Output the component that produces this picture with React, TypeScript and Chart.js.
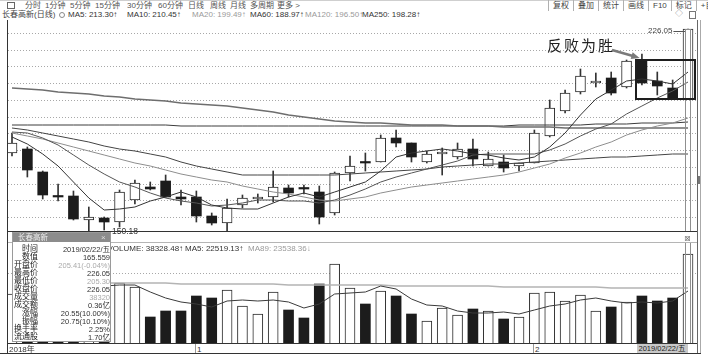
import React, { useEffect, useRef } from "react";
import { Chart, registerables } from "chart.js";

Chart.register(...registerables);

// ---------------- data ----------------
const DATES = [
  "2018-12-14","2018-12-17","2018-12-18","2018-12-19","2018-12-20","2018-12-21","2018-12-24","2018-12-25","2018-12-26","2018-12-27","2018-12-28","2018-12-31",
  "2019-01-02","2019-01-03","2019-01-04","2019-01-07","2019-01-08","2019-01-09","2019-01-10","2019-01-11","2019-01-14","2019-01-15","2019-01-16","2019-01-17","2019-01-18","2019-01-21","2019-01-22","2019-01-23","2019-01-24","2019-01-25","2019-01-28","2019-01-29","2019-01-30","2019-01-31",
  "2019-02-01","2019-02-11","2019-02-12","2019-02-13","2019-02-14","2019-02-15","2019-02-18","2019-02-19","2019-02-20","2019-02-21","2019-02-22",
];
const OPEN = [189.16,190.27,183.4,176.11,176.32,169.15,169.66,168.46,175.12,179.09,180.8,176.11,176.11,170.34,168.16,173.63,175.33,176.11,178.8,178.32,177.6,171.15,183.28,186.08,186.56,193.55,192.06,186.56,188.77,187.88,190.36,185.28,186.56,185.28,186.26,194.24,201.8,207.47,210.16,211.47,208.78,216.73,210.76,208.67,205.41];
const HIGH = [195.14,191.04,183.88,179.9,177.9,173.12,170.13,178.11,181.09,180.59,182.59,178.11,177.9,171.15,175.33,176.62,176.82,183.88,179.6,179.6,179.3,183.5,188.26,189.07,194.54,196.03,192.06,189.85,190.56,192.06,193.34,189.55,188.56,186.26,196.03,204.99,207.98,214.16,212.97,213.27,216.9,218.73,213.27,211.01,226.05];
const LOW = [188.27,181.9,175.42,174.91,169.15,150.18,166.16,167.15,173.93,178.11,175.93,173.63,168.64,167.65,165.35,172.64,174.14,174.61,176.11,176.82,167.95,170.64,180.89,183.88,186.56,190.86,186.56,186.08,182.59,187.28,185.28,185.28,183.57,183.88,186.08,194.03,201.2,206.78,208.78,206.48,208.6,209.47,206.48,205.5,205.3];
const CLOSE = [192.15,184.08,176.62,176.11,169.36,170.13,168.64,177.42,180.29,178.32,176.11,175.33,170.34,168.34,172.82,175.63,175.4,178.92,177.3,178.32,170.13,183.28,185.28,186.08,193.55,192.06,188.06,188.86,189.55,190.27,187.37,187.28,184.59,186.08,195.05,202.51,207.17,212.16,210.25,207.17,216.73,209.98,209.17,205.5,226.05];

const MA5 = [193.9,191.8,189.0,185.2,180.6,175.8,172.17,172.33,173.17,174.96,176.16,177.49,176.08,173.69,172.59,172.49,172.51,174.22,176.01,177.11,176.01,177.59,178.86,180.62,183.66,188.05,189.01,189.72,190.42,189.76,188.82,188.67,187.81,187.12,188.07,191.1,195.08,200.59,205.43,207.85,210.7,211.26,210.66,209.71,213.3];
const MA10 = [195.5,195.0,193.6,191.5,188.6,185.6,183.0,180.6,179.0,177.31,175.71,174.83,174.21,173.43,173.77,174.32,175.0,175.15,174.85,174.85,174.25,175.05,176.54,178.32,180.39,182.03,183.3,184.29,185.52,186.71,188.44,188.84,188.77,188.77,188.92,189.96,191.87,194.2,196.27,197.96,200.9,203.17,205.63,207.57,210.45];
const MA20 = [195.1,194.3,193.3,192.2,191.1,189.9,188.7,187.5,186.3,185.2,184.0,183.0,182.0,181.2,180.4,179.3,178.3,177.5,176.8,176.08,174.98,174.94,175.37,175.87,177.08,178.18,179.15,179.72,180.18,180.78,181.34,181.94,182.65,183.54,184.65,186.0,187.59,189.25,190.9,192.34,194.67,196.0,197.2,198.17,199.49];
const MA60 = [196.6,195.9,195.0,194.1,193.2,192.3,191.3,190.5,189.9,189.0,187.9,186.6,185.4,184.4,183.4,182.6,182.5,182.5,182.5,182.6,182.6,182.7,182.9,183.2,183.5,183.8,184.1,184.5,184.9,185.3,185.6,185.8,186.0,186.2,186.5,186.8,187.0,187.3,187.6,187.9,188.1,188.3,188.6,188.8,188.97];
const MA120 = [208.6,208.3,207.9,207.5,207.1,206.7,206.3,205.9,205.4,205.0,204.6,204.2,203.9,203.5,203.1,202.6,202.0,201.3,200.6,199.9,199.3,198.8,198.5,198.2,198.0,197.8,197.6,197.5,197.4,197.3,197.2,197.1,197.0,196.9,196.8,196.8,196.7,196.7,196.6,196.6,196.6,196.5,196.5,196.5,196.5];
const MA250 = [197.6,197.6,197.6,197.5,197.5,197.5,197.5,197.4,197.4,197.4,197.4,197.3,197.3,197.3,197.3,197.3,197.2,197.2,197.2,197.2,197.2,197.2,197.2,197.2,197.2,197.2,197.2,197.2,197.2,197.2,197.3,197.3,197.3,197.4,197.4,197.5,197.6,197.6,197.7,197.8,197.9,198.0,198.1,198.2,198.28];

const VOLUME = [21000,25000,23000,24000,28000,26000,22000,25800,24100,11200,13800,13800,20200,19400,22800,15900,12500,22000,14200,10800,25400,34000,23700,16800,22400,20200,12500,9500,15100,12100,14600,13800,10300,11200,21500,22000,18100,20700,13800,15500,17700,20200,18100,19400,38320];
const VOL_MA5 = [22500,23000,23200,23500,24200,25200,24600,25160,25180,21820,19380,17740,16620,15680,18000,18420,18160,18520,17480,15080,16980,21280,21620,22140,24460,23420,19120,16280,15940,13880,12760,13020,13180,12400,14280,15760,16620,18700,19220,18020,17160,17580,17060,18180,22519];
const VOL_MA89 = [26200,26150,26100,26050,26000,25950,25900,25800,25750,25700,25650,25600,25500,25450,25400,25300,25250,25200,25100,25050,25000,24950,24900,24850,24800,24750,24700,24600,24550,24500,24450,24350,24300,24250,24150,24100,24000,23950,23900,23850,23800,23700,23650,23600,23538];

const PRICE_GRID = [170, 175, 180, 185, 190, 195, 200, 205, 210, 215, 220, 225];
const VOL_GRID = [30000];

const MA_LABELS = [
  { text: "MA5: 213.30↑", color: "#333", left: 68 },
  { text: "MA10: 210.45↑", color: "#333", left: 127 },
  { text: "MA20: 199.49↑", color: "#9a9a9a", left: 192 },
  { text: "MA60: 188.97↑", color: "#333", left: 250 },
  { text: "MA120: 196.50↑", color: "#9a9a9a", left: 305 },
  { text: "MA250: 198.28↑", color: "#333", left: 362 },
];
const TOOLBAR = [
  { t: "分时", l: 25 }, { t: "1分钟", l: 45 }, { t: "5分钟", l: 70 }, { t: "15分钟", l: 95 },
  { t: "30分钟", l: 127 }, { t: "60分钟", l: 158 }, { t: "日线", l: 188 }, { t: "周线", l: 210 },
  { t: "月线", l: 230 }, { t: "多周期", l: 250 }, { t: "更多 >", l: 277 },
];
const TOOL_RIGHT = ["复权", "叠加", "统计", "画线", "F10", "标记", "+自"];
const INFO_ROWS = [
  ["时间", "2019/02/22/五", "#333"],
  ["数值", "165.559", "#333"],
  ["开盘价", "205.41(-0.04%)", "#aaa"],
  ["最高价", "226.05", "#333"],
  ["最低价", "205.30", "#aaa"],
  ["收盘价", "226.05", "#333"],
  ["成交量", "38320", "#aaa"],
  ["成交额", "0.36亿", "#333"],
  ["涨幅", "20.55(10.00%)", "#333"],
  ["振幅", "20.75(10.10%)", "#333"],
  ["换手率", "2.25%", "#333"],
  ["流通股", "1.70亿", "#333"],
];

// annotation anchors (in data units)
const BOX_X = [40.6, 44.45];
const BOX_Y = [205.3, 216.95];
const ARROW_FROM = [39.05, 219.8];
const ARROW_TO = [40.85, 217.5];

// ---------------- layout ----------------
const FONT = "'Liberation Sans', 'Noto Sans CJK SC', sans-serif";
const CANVAS_LEFT = 8;
const CANVAS_W = 690;
const MAIN_TOP = 22;
const MAIN_H = 209;
const VOL_TOP = 243;
const VOL_H = 100;
const X_MIN = -0.26;
const X_MAX = 44.65;
const Y_MIN = 165.86;
const Y_MAX = 228.29;
const VOL_MAX = 43060;
const LAST = DATES.length - 1;

const pxAt = (i: number) => CANVAS_LEFT + ((i - X_MIN) / (X_MAX - X_MIN)) * CANVAS_W;

const isUp = (i: number) => CLOSE[i] > OPEN[i];
const series = (arr: number[]) => arr.map((v, i) => ({ x: i, y: v }));

const lineDs = (label: string, data: number[], color: string, width = 1) => ({
  type: "line" as const,
  label,
  data: series(data),
  borderColor: color,
  backgroundColor: color,
  borderWidth: width,
  pointRadius: 0,
  fill: false,
  order: 0,
});

const xScale = { type: "linear" as const, min: X_MIN, max: X_MAX, offset: false, display: false };

const mainAnnot = {
  id: "mainAnnot",
  afterDatasetsDraw(chart: any) {
    const { ctx, chartArea, scales } = chart;
    const x = scales.x, y = scales.y;
    ctx.save();
    // cursor band on the selected day
    const cx = Math.round(x.getPixelForValue(LAST));
    const top = Math.round(y.getPixelForValue(HIGH[LAST]));
    ctx.strokeStyle = "#8f8f8f";
    ctx.lineWidth = 1;
    ctx.strokeRect(cx - 2.5, top + 0.5, 5, chartArea.bottom - top);
    // box around the last candles
    ctx.strokeStyle = "#1e1e1e";
    ctx.lineWidth = 2;
    const bx1 = x.getPixelForValue(BOX_X[0]), bx2 = x.getPixelForValue(BOX_X[1]);
    const by1 = y.getPixelForValue(BOX_Y[1]), by2 = y.getPixelForValue(BOX_Y[0]);
    ctx.strokeRect(Math.round(bx1), Math.round(by1), Math.round(bx2 - bx1), Math.round(by2 - by1));
    // arrow
    const ax1 = x.getPixelForValue(ARROW_FROM[0]), ay1 = y.getPixelForValue(ARROW_FROM[1]);
    const ax2 = x.getPixelForValue(ARROW_TO[0]), ay2 = y.getPixelForValue(ARROW_TO[1]);
    ctx.strokeStyle = "#7a7a7a";
    ctx.fillStyle = "#7a7a7a";
    ctx.lineWidth = 2.5;
    ctx.beginPath();
    ctx.moveTo(ax1, ay1);
    ctx.lineTo(ax2 - 4, ay2 - 1.2);
    ctx.stroke();
    const a = Math.atan2(ay2 - ay1, ax2 - ax1);
    const L = 9;
    ctx.beginPath();
    ctx.moveTo(ax2, ay2);
    ctx.lineTo(ax2 - L * Math.cos(a - 0.4), ay2 - L * Math.sin(a - 0.4));
    ctx.lineTo(ax2 - L * Math.cos(a + 0.4), ay2 - L * Math.sin(a + 0.4));
    ctx.closePath();
    ctx.fill();
    // high marker line
    ctx.strokeStyle = "#555";
    ctx.lineWidth = 1;
    const my = Math.round(y.getPixelForValue(HIGH[LAST])) + 2.5;
    ctx.beginPath();
    ctx.moveTo(x.getPixelForValue(LAST - 0.95), my);
    ctx.lineTo(cx - 3, my);
    ctx.stroke();
    ctx.restore();
  },
};

const volAnnot = {
  id: "volAnnot",
  afterDatasetsDraw(chart: any) {
    const { ctx, chartArea, scales } = chart;
    const cx = Math.round(scales.x.getPixelForValue(LAST));
    ctx.save();
    ctx.strokeStyle = "#8f8f8f";
    ctx.lineWidth = 1;
    ctx.strokeRect(cx - 2.5, chartArea.top - 0.5, 5, chartArea.bottom - chartArea.top + 1);
    ctx.restore();
  },
};

function mainConfig(): any {
  const idx = DATES.map((_, i) => i);
  const wicks = idx.map((i) => ({ x: i, y: [LOW[i], HIGH[i]] }));
  const upBodies = idx.filter(isUp).map((i) => ({ x: i, y: [OPEN[i], CLOSE[i]] }));
  const downBodies = idx.filter((i) => !isUp(i)).map((i) => ({ x: i, y: [OPEN[i], CLOSE[i]] }));
  return {
    type: "bar",
    data: {
      datasets: [
        lineDs("MA5", MA5, "#333333"),
        lineDs("MA10", MA10, "#555555"),
        lineDs("MA20", MA20, "#8e8e8e"),
        lineDs("MA60", MA60, "#444444"),
        lineDs("MA120", MA120, "#6e6e6e", 1.5),
        lineDs("MA250", MA250, "#3c3c3c"),
        {
          type: "bar", label: "up", data: upBodies, backgroundColor: "#ffffff", borderColor: "#2a2a2a",
          borderWidth: 1, borderSkipped: false, barThickness: 10, grouped: false, minBarLength: 2, order: 1,
        },
        {
          type: "bar", label: "down", data: downBodies, backgroundColor: "#1c1c1c", borderColor: "#1c1c1c",
          borderWidth: 0, borderSkipped: false, barThickness: 10, grouped: false, minBarLength: 1.5, order: 1,
        },
        {
          type: "bar", label: "wick", data: wicks, backgroundColor: "#333333", borderWidth: 0,
          barThickness: 1, grouped: false, order: 2,
        },
      ],
    },
    options: {
      responsive: false,
      maintainAspectRatio: false,
      animation: false,
      events: [],
      layout: { padding: 0 },
      plugins: { legend: { display: false }, tooltip: { enabled: false } },
      scales: {
        x: xScale,
        y: {
          type: "linear",
          min: Y_MIN,
          max: Y_MAX,
          alignToPixels: true,
          ticks: { display: false },
          border: { display: false, dash: [1, 2] },
          grid: { color: "#a8a8a8", drawTicks: false, lineWidth: 1 },
          afterBuildTicks: (s: any) => { s.ticks = PRICE_GRID.map((v) => ({ value: v })); },
        },
      },
    },
    plugins: [mainAnnot],
  };
}

function volConfig(): any {
  const idx = DATES.map((_, i) => i);
  const up = idx.filter(isUp).map((i) => ({ x: i, y: VOLUME[i] }));
  const down = idx.filter((i) => !isUp(i)).map((i) => ({ x: i, y: VOLUME[i] }));
  return {
    type: "bar",
    data: {
      datasets: [
        lineDs("VMA5", VOL_MA5, "#3a3a3a"),
        lineDs("VMA89", VOL_MA89, "#b4b4b4", 1.5),
        {
          type: "bar", label: "vup", data: up, backgroundColor: "#ffffff", borderColor: "#2a2a2a",
          borderWidth: 1, borderSkipped: "start", barThickness: 10, grouped: false, order: 1,
        },
        {
          type: "bar", label: "vdown", data: down, backgroundColor: "#1c1c1c", borderWidth: 0,
          barThickness: 10, grouped: false, order: 1,
        },
      ],
    },
    options: {
      responsive: false,
      maintainAspectRatio: false,
      animation: false,
      events: [],
      layout: { padding: 0 },
      plugins: { legend: { display: false }, tooltip: { enabled: false } },
      scales: {
        x: xScale,
        y: {
          type: "linear",
          min: 0,
          max: VOL_MAX,
          alignToPixels: true,
          ticks: { display: false },
          border: { display: false, dash: [1, 2] },
          grid: { color: "#a8a8a8", drawTicks: false, lineWidth: 1 },
          afterBuildTicks: (s: any) => { s.ticks = VOL_GRID.map((v) => ({ value: v })); },
        },
      },
    },
    plugins: [volAnnot],
  };
}

// ---------------- components ----------------
const abs = (left: number, top: number, extra: any = {}): any => ({
  position: "absolute", left, top, whiteSpace: "nowrap", lineHeight: 1, ...extra,
});

function Line({ l, t, w, h, c }: { l: number; t: number; w: number; h: number; c: string }) {
  return <div style={{ position: "absolute", left: l, top: t, width: w, height: h, background: c }} />;
}

function InfoPanel() {
  return (
    <div style={abs(12, 232, { width: 99, height: 110, background: "#fff", border: "1px solid #9a9a9a", boxSizing: "border-box" })}>
      <div style={{ position: "absolute", left: 0, top: 0, width: 97, height: 9, background: "#8c8c8c" }}>
        <span style={abs(5, 1, { fontSize: 7.5, color: "#ececec" })}>长春高新</span>
        <span style={abs(88, 0.5, { fontSize: 8, color: "#dcdcdc" })}>×</span>
      </div>
      {INFO_ROWS.map(([label, value, color], k) => (
        <React.Fragment key={label}>
          <div style={abs(0, 12 + k * 8, { width: 25, textAlign: "right", fontSize: 8, color: "#222" })}>{label}</div>
          <div style={abs(27, 12.5 + k * 8, { width: 70, textAlign: "right", fontSize: 7.5, color })}>{value}</div>
        </React.Fragment>
      ))}
    </div>
  );
}

export default function App() {
  const mainRef = useRef<HTMLCanvasElement>(null);
  const volRef = useRef<HTMLCanvasElement>(null);

  useEffect(() => {
    document.body.style.margin = "0";
    const main = new Chart(mainRef.current as HTMLCanvasElement, mainConfig());
    const vol = new Chart(volRef.current as HTMLCanvasElement, volConfig());
    return () => {
      main.destroy();
      vol.destroy();
    };
  }, []);

  const monthStarts = DATES.map((d, i) => ({ d, i })).filter(
    ({ d, i }) => i > 0 && d.slice(5, 7) !== DATES[i - 1].slice(5, 7)
  );

  return (
    <div style={{ position: "absolute", left: 0, top: 0, width: 708, height: 362, background: "#fff", overflow: "hidden", fontFamily: FONT }}>
      {/* toolbar */}
      <Line l={0} t={0} w={708} h={1} c="#cfcfcf" />
      <div style={abs(7, 2, { width: 6, height: 5, border: "1px solid #666" })} />
      {TOOLBAR.map((it) => (
        <span key={it.t} style={abs(it.l, 1.5, { fontSize: 8, color: "#555" })}>{it.t}</span>
      ))}
      <div style={abs(548, 0, { display: "flex", height: 10, fontSize: 8, color: "#444" })}>
        {TOOL_RIGHT.map((t) => (
          <span key={t} style={{ borderLeft: "1px solid #b0b0b0", padding: "1.5px 4px 0", height: 9 }}>{t}</span>
        ))}
      </div>

      {/* legend row */}
      <span style={abs(2, 11, { fontSize: 8, color: "#444" })}>长春高新(日线)</span>
      <div style={abs(59, 11.5, { width: 4, height: 4, borderRadius: "50%", border: "1.5px solid #8a8a8a" })} />
      {MA_LABELS.map((m) => (
        <span key={m.text} style={abs(m.left, 11, { fontSize: 8, color: m.color })}>{m.text}</span>
      ))}
      <span style={abs(675, 10, { fontSize: 8, color: "#888" })}>◇</span>
      <div style={abs(689, 11, { width: 5, height: 6, border: "1px solid #777" })} />

      {/* frame */}
      <Line l={7} t={20} w={1} h={334} c="#333" />
      <Line l={697} t={20} w={1} h={334} c="#666" />
      <Line l={700} t={20} w={1} h={334} c="#aaa" />
      <Line l={698} t={176} w={2} h={8} c="#777" />

      {/* charts */}
      <canvas ref={mainRef} width={CANVAS_W} height={MAIN_H} style={{ position: "absolute", left: CANVAS_LEFT, top: MAIN_TOP, width: CANVAS_W, height: MAIN_H }} />
      <Line l={8} t={231} w={689} h={1} c="#333" />
      <Line l={8} t={242} w={689} h={1} c="#b5b5b5" />
      <canvas ref={volRef} width={CANVAS_W} height={VOL_H} style={{ position: "absolute", left: CANVAS_LEFT, top: VOL_TOP, width: CANVAS_W, height: VOL_H }} />
      <Line l={8} t={343} w={689} h={1} c="#333" />
      <Line l={0} t={353} w={701} h={1} c="#333" />

      {/* annotations */}
      <span style={abs(648, 27, { fontSize: 8, color: "#444" })}>226.05</span>
      <span style={abs(112, 227, { fontSize: 8.5, color: "#333" })}>150.18</span>
      <span style={abs(547, 37, { fontSize: 15, color: "#222", letterSpacing: 2, fontFamily: "'Noto Sans CJK SC', sans-serif", fontWeight: 400 })}>反败为胜</span>
      <span style={abs(684, 234.5, { fontSize: 8, color: "#777", fontFamily: "'DejaVu Sans', sans-serif" })}>⊠</span>

      {/* volume legend */}
      <span style={abs(107.5, 244.5, { fontSize: 8, color: "#333" })}>VOLUME: 38328.48↑</span>
      <span style={abs(185, 244.5, { fontSize: 8, color: "#333" })}>MA5: 22519.13↑</span>
      <span style={abs(248, 244.5, { fontSize: 8, color: "#9a9a9a" })}>MA89: 23538.36↓</span>

      <InfoPanel />

      {/* date axis row */}
      <span style={abs(9, 345.5, { fontSize: 8, color: "#333" })}>2018年</span>
      {monthStarts.map(({ d, i }) => (
        <React.Fragment key={d}>
          <Line l={Math.round(pxAt(i)) - 1} t={344} w={1} h={9} c="#999" />
          <span style={abs(Math.round(pxAt(i)) + 1, 345.5, { fontSize: 8, color: "#333" })}>{String(Number(d.slice(5, 7)))}</span>
        </React.Fragment>
      ))}
      <div style={abs(637, 344, { width: 51, height: 9, background: "#c8c8c8" })}>
        <span style={abs(1.5, 1, { fontSize: 7.5, color: "#222" })}>2019/02/22/五</span>
      </div>
    </div>
  );
}
